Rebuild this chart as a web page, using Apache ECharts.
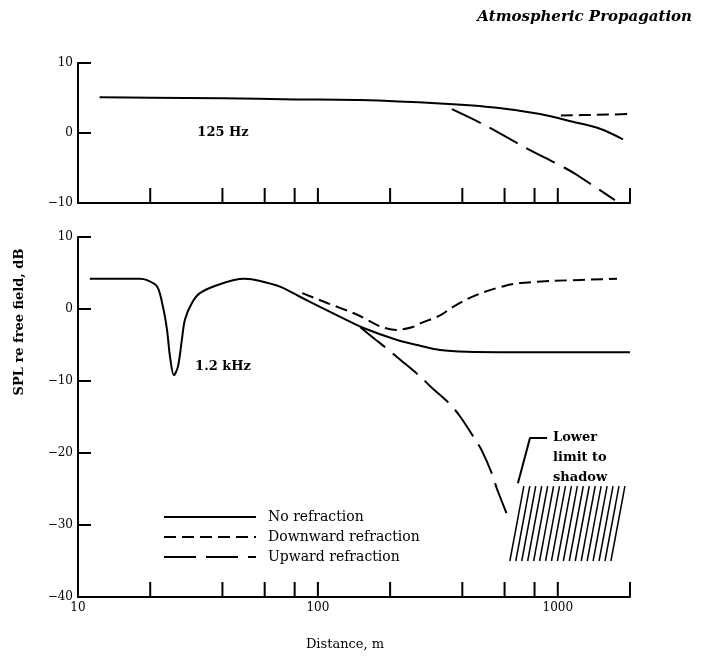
<!DOCTYPE html>
<html><head><meta charset="utf-8">
<script src="https://cdn.jsdelivr.net/npm/echarts@6/dist/echarts.min.js"></script>
<style>html,body{margin:0;padding:0;background:#fff}#c{width:703px;height:656px}</style>
</head><body><div id="c"></div>
<script>
// ---- data (distance in m, SPL re free field in dB) ----
const xTicks = [10, 20, 40, 60, 80, 100, 200, 400, 600, 800, 1000, 2000];
const xLabels = [10, 100, 1000];

const topNoRefraction = [[12.3,5.1],[20,5.05],[40,4.95],[80,4.8],[150,4.7],[323,4.2],[558,3.6],[843,2.7],[1157,1.6],[1499,0.6],[1870,-0.9]];
const topDownward = [[1030,2.5],[1450,2.6],[1950,2.7]];
const topUpward = [[362,3.4],[498,1.1],[716,-1.9],[1072,-5.0],[1203,-6.0],[1730,-9.6]];

const botNoRefraction = [[11.2,4.2],[18.1,4.2],[19.4,4.0],[21.4,3.1],[22.6,0.3],[23.5,-2.9],[24.2,-6.7],[25.1,-9.2],[26.1,-8.0],[27.1,-4.3],[27.9,-1.5],[29.8,0.8],[32.2,2.2],[37.9,3.3],[44.3,4.0],[49.7,4.2],[57.4,3.9],[69.5,3.1],[84.2,1.7],[102,0.3],[124,-1.1],[154,-2.6],[214,-4.3],[267,-5.1],[323,-5.7],[420,-5.95],[574,-6.0],[2000,-6.0]];
const botDownward = [[86,2.2],[110,0.8],[146,-0.8],[181,-2.4],[213,-2.9],[249,-2.5],[267,-2.0],[323,-0.9],[366,0.3],[420,1.4],[497,2.4],[600,3.2],[695,3.6],[955,3.9],[1766,4.2]];
const botUpward = [[150,-2.5],[170,-4.0],[194,-5.5],[216,-6.8],[272,-9.6],[293,-10.7],[355,-13.2],[391,-14.9],[452,-18.1],[483,-19.7],[532,-22.9],[558,-25.0],[614,-28.5],[632,-29.5]];

const shadowDist = [722, 1905];   // extent of the hatched shadow region (top edge)
const shadowLevel = [-24.6, -35]; // top and bottom of hatch, dB
const leaderPts = [[682,-24.2],[766,-17.9],[902,-17.9]];

const names = ['No refraction', 'Downward refraction', 'Upward refraction'];
const dashes = ['solid', [12, 6], [32, 10]];

// ---- chart ----
const FONT = 'DejaVu Serif';
const chart = echarts.init(document.getElementById('c'));
const minus = v => v < 0 ? '\u2212' + Math.abs(v) : String(v);

function xAxis(gi, showLabels) {
  return {
    type: 'log', logBase: 10, gridIndex: gi, min: 10, max: 2000,
    axisLine: { onZero: false, lineStyle: { color: '#000', width: 2 } },
    axisTick: { show: false },
    splitLine: { show: false },
    axisLabel: {
      show: showLabels, margin: 5, color: '#000', fontFamily: FONT, fontSize: 12,
      formatter: v => xLabels.includes(Math.round(v)) ? String(Math.round(v)) : ''
    }
  };
}
function yAxis(gi, min, max) {
  return {
    type: 'value', gridIndex: gi, min: min, max: max, interval: 10,
    axisLine: { show: true, onZero: false, lineStyle: { color: '#000', width: 2 } },
    axisTick: { show: true, inside: true, length: 13, lineStyle: { color: '#000', width: 2 } },
    splitLine: { show: false },
    axisLabel: { margin: 5, color: '#000', fontFamily: FONT, fontSize: 12, formatter: minus }
  };
}
function lineSeries(name, data, gi, dash) {
  return {
    type: 'line', name: name, xAxisIndex: gi, yAxisIndex: gi, data: data,
    symbol: 'none', showSymbol: false, smooth: 0.3, lineStyle: { color: '#000', width: 2, type: dash },
    itemStyle: { color: '#000' }, z: 3
  };
}
function tickSeries(gi, yMin) {
  return {
    type: 'custom', xAxisIndex: gi, yAxisIndex: gi, silent: true,
    data: xTicks.map(v => [v, yMin]),
    renderItem: (p, api) => {
      const c = api.coord([api.value(0), api.value(1)]);
      return { type: 'line', shape: { x1: c[0], y1: c[1], x2: c[0], y2: c[1] - 15 },
               style: { stroke: '#000', lineWidth: 2 } };
    }
  };
}

const series = [
  lineSeries(names[0], topNoRefraction, 0, dashes[0]),
  lineSeries(names[1], topDownward, 0, dashes[1]),
  lineSeries(names[2], topUpward, 0, dashes[2]),
  lineSeries(names[0], botNoRefraction, 1, dashes[0]),
  lineSeries(names[1], botDownward, 1, dashes[1]),
  lineSeries(names[2], botUpward, 1, dashes[2]),
  tickSeries(0, -10),
  tickSeries(1, -40),
  { type: 'line', xAxisIndex: 1, yAxisIndex: 1, data: leaderPts, symbol: 'none',
    lineStyle: { color: '#000', width: 2 }, silent: true },
  {
    type: 'custom', xAxisIndex: 1, yAxisIndex: 1, silent: true,
    data: [[shadowDist[0], shadowLevel[0]]],
    renderItem: (p, api) => {
      const tl = api.coord([shadowDist[0], shadowLevel[0]]);
      const tr = api.coord([shadowDist[1], shadowLevel[0]]);
      const bl = api.coord([shadowDist[0], shadowLevel[1]]);
      const n = 17, slant = 14, children = [];
      for (let i = 0; i <= n; i++) {
        const x = tl[0] + (tr[0] - tl[0]) * i / n;
        children.push({ type: 'line', shape: { x1: x, y1: tl[1], x2: x - slant, y2: bl[1] },
                        style: { stroke: '#000', lineWidth: 1.5 } });
      }
      return { type: 'group', children: children };
    }
  }
];

chart.setOption({
  animation: false,
  backgroundColor: '#fff',
  title: {
    text: 'Atmospheric Propagation', right: 6, top: 5,
    textStyle: { fontFamily: FONT, fontStyle: 'italic', fontWeight: 'bold', fontSize: 15, color: '#000' }
  },
  grid: [
    { left: 78, right: 73, top: 63, height: 140 },
    { left: 78, right: 73, top: 237, height: 360 }
  ],
  xAxis: [xAxis(0, false), xAxis(1, true)],
  yAxis: [yAxis(0, -10, 10), yAxis(1, -40, 10)],
  legend: {
    data: names, orient: 'vertical', left: 158, top: 505,
    itemWidth: 92, itemHeight: 14, itemGap: 6, selectedMode: false,
    itemStyle: { opacity: 0 },
    textStyle: { fontFamily: FONT, fontSize: 14, color: '#000', padding: [0, 0, 0, 7] }
  },
  graphic: [
    { type: 'text', x: 223, y: 133, style: { text: '125 Hz', fontFamily: FONT, fontSize: 13, fontWeight: 'bold', fill: '#000', textAlign: 'center', verticalAlign: 'middle' } },
    { type: 'text', x: 223, y: 367, style: { text: '1.2 kHz', fontFamily: FONT, fontSize: 13, fontWeight: 'bold', fill: '#000', textAlign: 'center', verticalAlign: 'middle' } },
    { type: 'text', x: 553, y: 428, style: { text: 'Lower\nlimit to\nshadow', fontFamily: FONT, fontSize: 13, fontWeight: 'bold', lineHeight: 20, fill: '#000', textAlign: 'left', verticalAlign: 'top' } },
    { type: 'text', x: 20, y: 322, rotation: Math.PI / 2, style: { text: 'SPL re free field, dB', fontFamily: FONT, fontSize: 13, fontWeight: 'bold', fill: '#000', textAlign: 'center', verticalAlign: 'middle' } },
    { type: 'text', x: 345, y: 645, style: { text: 'Distance, m', fontFamily: FONT, fontSize: 13, fill: '#000', textAlign: 'center', verticalAlign: 'middle' } }
  ],
  series: series
});
</script>
</body></html>
